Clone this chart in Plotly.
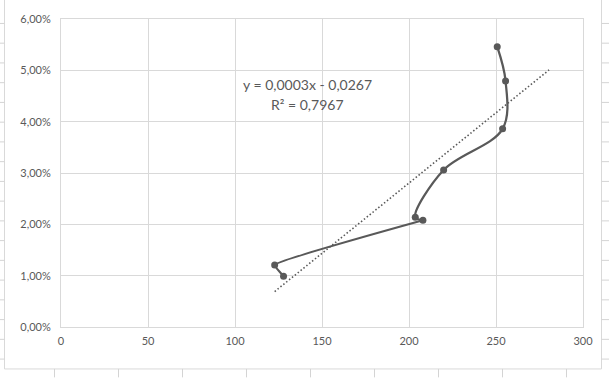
import numpy as np
import plotly.graph_objects as go

# ---- data ----
x_values = [250.7, 255.5, 253.8, 219.9, 203.6, 208.0, 122.8, 127.9]
y_values = [0.0546, 0.0479, 0.0386, 0.0306, 0.0214, 0.0208, 0.0121, 0.0099]
x_ticks = [0, 50, 100, 150, 200, 250, 300]
y_ticks = [0.0, 0.01, 0.02, 0.03, 0.04, 0.05, 0.06]
y_tick_labels = ["0,00%", "1,00%", "2,00%", "3,00%", "4,00%", "5,00%", "6,00%"]
equation_text = "y = 0,0003x - 0,0267"
r2_text = "R² = 0,7967"
forecast_forward = 25
smooth_until = 6  # the first points are joined by a smoothed curve, the rest nearly straight

# ---- layout geometry (pixels) ----
W, H = 609, 378
ML, MR, MT, MB = 61, 26, 15, 51
PW, PH = W - ML - MR, H - MT - MB
GREY = "#595959"
GRID = "#d9d9d9"
SHEET = "#d4d4d4"
FONT = "Lato"


def px(xp):
    return (xp - ML) / PW


def py(yp):
    return (H - MB - yp) / PH


# linear trendline computed from the data
slope, intercept = np.polyfit(x_values, y_values, 1)
tx = np.array([min(x_values), max(x_values) + forecast_forward])
ty = slope * tx + intercept

fig = go.Figure()
fig.add_trace(go.Scatter(
    x=tx, y=ty, mode="lines",
    line=dict(color=GREY, width=1.6, dash="1.5px,2.2px"),
    hoverinfo="skip", showlegend=False,
))
fig.add_trace(go.Scatter(
    x=x_values[:smooth_until], y=y_values[:smooth_until], mode="lines",
    line=dict(color=GREY, width=2.25, shape="spline", smoothing=1),
    hoverinfo="skip", showlegend=False,
))
fig.add_trace(go.Scatter(
    x=x_values[smooth_until - 1:], y=y_values[smooth_until - 1:], mode="lines",
    line=dict(color=GREY, width=2.25, shape="spline", smoothing=0.3),
    hoverinfo="skip", showlegend=False,
))
fig.add_trace(go.Scatter(
    x=x_values, y=y_values, mode="markers",
    marker=dict(color=GREY, size=7),
    showlegend=False,
))

shapes = []
# chart area border
shapes.append(dict(type="rect", xref="paper", yref="paper",
                   x0=px(4.5), x1=px(601.5), y0=py(369.5), y1=py(-5),
                   line=dict(color=GRID, width=1), fillcolor="rgba(0,0,0,0)", layer="below"))
# spreadsheet cell lines visible around the chart
for k in range(18):
    yy = 19.5 + 20 * k
    shapes.append(dict(type="line", xref="paper", yref="paper",
                       x0=px(0), x1=px(4.5), y0=py(yy), y1=py(yy),
                       line=dict(color=SHEET, width=1)))
    shapes.append(dict(type="line", xref="paper", yref="paper",
                       x0=px(601.5), x1=px(609), y0=py(yy), y1=py(yy),
                       line=dict(color=SHEET, width=1)))
for k in range(9):
    xx = 54.5 + 64 * k
    shapes.append(dict(type="line", xref="paper", yref="paper",
                       x0=px(xx), x1=px(xx), y0=py(369.5), y1=py(378),
                       line=dict(color=SHEET, width=1)))

annotations = [
    dict(text=equation_text, xref="paper", yref="paper", x=px(307), y=py(81),
         xanchor="center", yanchor="middle", showarrow=False,
         font=dict(family=FONT, size=14, color=GREY)),
    dict(text=r2_text, xref="paper", yref="paper", x=px(307), y=py(102),
         xanchor="center", yanchor="middle", showarrow=False,
         font=dict(family=FONT, size=14, color=GREY)),
]

fig.update_layout(
    width=W, height=H,
    margin=dict(l=ML, r=MR, t=MT, b=MB, pad=0),
    paper_bgcolor="white", plot_bgcolor="white",
    font=dict(family=FONT, size=11, color=GREY),
    shapes=shapes, annotations=annotations,
    showlegend=False,
    xaxis=dict(range=[0, 300], tickvals=x_ticks, ticktext=[str(v) for v in x_ticks],
               showgrid=True, gridcolor=GRID, gridwidth=1, zeroline=False,
               showline=True, linecolor=GRID, linewidth=1, mirror=True,
               ticks="", ticklabelstandoff=4,
               tickfont=dict(family=FONT, size=11, color=GREY),
               fixedrange=True),
    yaxis=dict(range=[0, 0.06], tickvals=y_ticks, ticktext=y_tick_labels,
               showgrid=True, gridcolor=GRID, gridwidth=1, zeroline=False,
               showline=True, linecolor=GRID, linewidth=1, mirror=True,
               ticks="", ticklabelstandoff=7,
               tickfont=dict(family=FONT, size=11, color=GREY),
               fixedrange=True),
)

fig.write_html("out.html")
